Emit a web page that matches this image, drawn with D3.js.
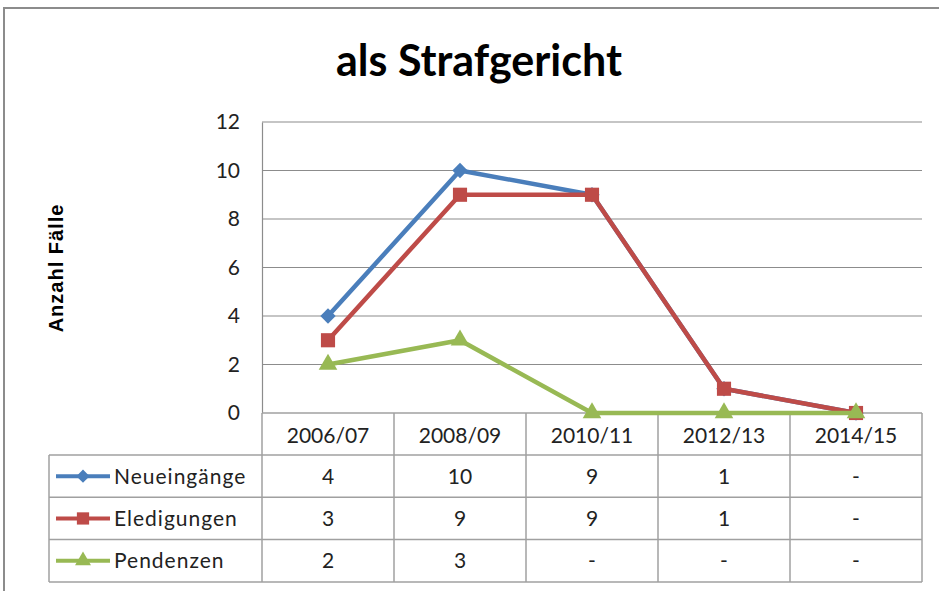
<!DOCTYPE html>
<html lang="de">
<head>
<meta charset="utf-8">
<title>als Strafgericht</title>
<script src="https://d3js.org/d3.v7.min.js"></script>
<style>
  body { margin: 0; background: #fff; }
  svg { display: block; }
  .tick text { font-family: Lato, "Open Sans", sans-serif; font-size: 21px; fill: #222; }
</style>
</head>
<body>
<svg id="chart" width="939" height="591"></svg>
<script>
// --- data ---
var categories = ["2006/07", "2008/09", "2010/11", "2012/13", "2014/15"];
var seriesNames = ["Neueingänge", "Eledigungen", "Pendenzen"];
var neueingaenge = [4, 10, 9, 1, 0];
var eledigungen = [3, 9, 9, 1, 0];
var pendenzen = [2, 3, 0, 0, 0];
var yTicks = [0, 2, 4, 6, 8, 10, 12];

var colors = ["#4a7ebb", "#be4b48", "#98b954"];
var symbols = [d3.symbolDiamond2, d3.symbolSquare, d3.symbolTriangle];

var series = [neueingaenge, eledigungen, pendenzen].map(function(v, i) {
  return { name: seriesNames[i], values: v, color: colors[i], symbol: symbols[i] };
});

var svg = d3.select("#chart");

// outer frame
svg.append("rect")
    .attr("x", 4).attr("y", 8)
    .attr("width", 960).attr("height", 620)
    .attr("fill", "none")
    .attr("stroke", "#8c8c8c")
    .attr("stroke-width", 2);

svg.append("text")
    .attr("x", 479).attr("y", 76)
    .attr("text-anchor", "middle")
    .style("font-family", "Lato, 'Open Sans', sans-serif")
    .style("font-weight", "bold")
    .style("font-size", "43px")
    .text("als Strafgericht");

var plotLeft = 262, plotRight = 922, plotTop = 122, plotBottom = 413;

var x = d3.scaleBand().domain(categories).range([plotLeft, plotRight]);
var y = d3.scaleLinear().domain([0, 12]).range([plotBottom, plotTop]);

// gridlines
svg.append("g")
  .selectAll("line")
  .data(yTicks.slice(1))
  .enter().append("line")
    .attr("x1", plotLeft).attr("x2", plotRight)
    .attr("y1", function(d) { return y(d); })
    .attr("y2", function(d) { return y(d); })
    .attr("stroke", "#8c8c8c")
    .attr("stroke-width", 1.2);

// y axis
var yAxis = svg.append("g")
    .attr("transform", "translate(" + plotLeft + ",0)")
    .call(d3.axisLeft(y).tickValues(yTicks).tickSize(0).tickPadding(22));
yAxis.select(".domain").attr("stroke", "#8c8c8c").attr("stroke-width", 1.2);

svg.append("text")
    .attr("transform", "translate(63,268) rotate(-90)")
    .attr("text-anchor", "middle")
    .style("font-family", "'Liberation Sans', Arial, sans-serif")
    .style("font-weight", "bold")
    .style("font-size", "20px")
    .style("letter-spacing", "1px")
    .text("Anzahl Fälle");

// data table
var rowTop = 413, headH = 42, rowH = 42.3, tableLeft = 49;
var rowY = function(i) { return rowTop + headH + i * rowH; };
var tableBottom = rowY(series.length);
var grid = svg.append("g").attr("stroke", "#a0a0a0").attr("stroke-width", 1.5);

// horizontal rules
d3.range(series.length + 1).forEach(function(i) {
  grid.append("line")
      .attr("x1", tableLeft).attr("x2", plotRight)
      .attr("y1", rowY(i)).attr("y2", rowY(i));
});
grid.append("line").attr("x1", plotLeft).attr("x2", plotRight).attr("y1", rowTop).attr("y2", rowTop);
// vertical rules
grid.append("line").attr("x1", tableLeft).attr("x2", tableLeft).attr("y1", rowY(0)).attr("y2", tableBottom);
categories.forEach(function(c) {
  grid.append("line")
      .attr("x1", x(c)).attr("x2", x(c))
      .attr("y1", rowTop).attr("y2", tableBottom);
});
grid.append("line").attr("x1", plotRight).attr("x2", plotRight).attr("y1", rowTop).attr("y2", tableBottom);

var txtFont = "Lato, 'Open Sans', sans-serif";

svg.append("g").selectAll("text")
  .data(categories)
  .enter().append("text")
    .attr("x", function(d) { return x(d) + x.bandwidth() / 2; })
    .attr("y", rowTop + headH / 2 + 1)
    .attr("dy", "0.36em")
    .attr("text-anchor", "middle")
    .style("font-family", txtFont).style("font-size", "21px").attr("fill", "#222")
    .text(function(d) { return d; });

series.forEach(function(s, i) {
  var cy = rowY(i) + rowH / 2;
  var g = svg.append("g");
  g.append("line")
      .attr("x1", 56).attr("x2", 110)
      .attr("y1", cy).attr("y2", cy)
      .attr("stroke", s.color).attr("stroke-width", 4);
  g.append("path")
      .attr("transform", "translate(83," + cy + ")")
      .attr("d", d3.symbol().type(s.symbol).size(s.symbol === d3.symbolSquare ? 150 : 110)())
      .attr("fill", s.color);
  g.append("text")
      .attr("x", 114).attr("y", cy).attr("dy", "0.36em")
      .style("font-family", txtFont).style("font-size", "21px").style("letter-spacing", "1px")
      .attr("fill", "#222")
      .text(s.name);
  g.selectAll(".val")
    .data(s.values)
    .enter().append("text")
      .attr("x", function(d, j) { return x(categories[j]) + x.bandwidth() / 2; })
      .attr("y", cy).attr("dy", "0.36em")
      .attr("text-anchor", "middle")
      .style("font-family", txtFont).style("font-size", "21px").attr("fill", "#222")
      .text(function(d) { return d === 0 ? "-" : d; });
});

// lines
var line = d3.line()
    .x(function(d, j) { return x(categories[j]) + x.bandwidth() / 2; })
    .y(function(d) { return y(d); });

series.forEach(function(s) {
  var g = svg.append("g");
  g.append("path")
      .attr("d", line(s.values))
      .attr("fill", "none")
      .attr("stroke", s.color)
      .attr("stroke-width", 4.5)
      .attr("stroke-linejoin", "round");
  g.selectAll("path.m")
    .data(s.values)
    .enter().append("path")
      .attr("class", "m")
      .attr("transform", function(d, j) {
        return "translate(" + (x(categories[j]) + x.bandwidth() / 2) + "," + y(d) + ")";
      })
      .attr("d", d3.symbol().type(s.symbol).size(s.symbol === d3.symbolSquare ? 200 : 150)())
      .attr("fill", s.color);
});
</script>
</body>
</html>
